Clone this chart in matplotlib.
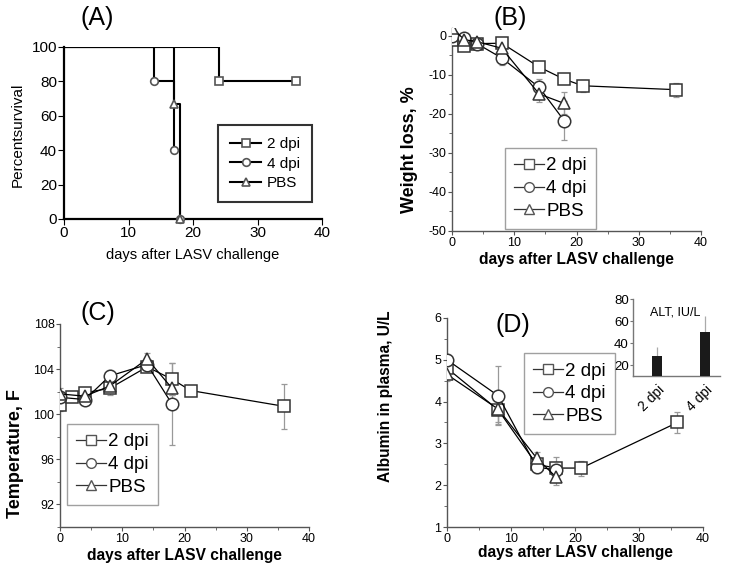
import numpy as np
import matplotlib
matplotlib.use("Agg")
import matplotlib.pyplot as plt
from matplotlib.ticker import MultipleLocator

plt.rcParams['font.family'] = ['Liberation Sans', 'DejaVu Sans']
plt.rcParams['axes.unicode_minus'] = False

groups = ['2 dpi', '4 dpi', 'PBS']
markers = ['s', 'o', '^']

# (A) survival
surv_t = {'2 dpi': [0, 24, 36], '4 dpi': [0, 14, 17, 18], 'PBS': [0, 17, 18]}
surv_p = {'2 dpi': [100, 80, 80], '4 dpi': [100, 80, 40, 0], 'PBS': [100, 66.7, 0]}

# (B) weight loss
wt_days = {'2 dpi': [0, 2, 4, 8, 14, 18, 21, 36], '4 dpi': [0, 2, 4, 8, 14, 18], 'PBS': [0, 2, 4, 8, 14, 18]}
wt_val = {'2 dpi': [-1.0, -2.6, -2.0, -1.9, -8.0, -11.1, -12.8, -13.8],
          '4 dpi': [0.0, -0.5, -2.0, -5.7, -13.2, -21.7],
          'PBS': [2.0, -1.0, -1.5, -3.2, -14.9, -17.3]}
wt_err = {'2 dpi': [0.5, 0.8, 0.6, 0.8, 0.8, 0.8, 1.5, 1.8],
          '4 dpi': [0.5, 0.8, 0.8, 1.8, 2.1, 5.0],
          'PBS': [0.5, 0.8, 0.8, 1.5, 2.0, 2.8]}

# (C) temperature
tmp_days = {'2 dpi': [0, 2, 4, 8, 14, 18, 21, 36], '4 dpi': [0, 4, 8, 14, 18], 'PBS': [0, 4, 8, 14, 18]}
tmp_val = {'2 dpi': [100.8, 101.5, 101.9, 102.3, 104.2, 103.1, 102.1, 100.7],
           '4 dpi': [101.5, 101.3, 103.4, 104.4, 100.9],
           'PBS': [101.8, 101.6, 102.5, 104.9, 102.3]}
tmp_err = {'2 dpi': [0.5, 0.4, 0.4, 0.4, 0.4, 1.4, 0.4, 2.0],
           '4 dpi': [0.5, 0.5, 0.5, 0.5, 3.6],
           'PBS': [0.5, 0.4, 0.8, 0.5, 0.6]}

# (D) albumin
alb_days = {'2 dpi': [0, 8, 14, 17, 21, 36], '4 dpi': [0, 8, 14, 17], 'PBS': [0, 8, 14, 17]}
alb_val = {'2 dpi': [4.8, 3.8, 2.5, 2.41, 2.41, 3.5],
           '4 dpi': [5.0, 4.14, 2.43, 2.37],
           'PBS': [4.65, 3.82, 2.65, 2.2]}
alb_err = {'2 dpi': [0.2, 0.3, 0.15, 0.15, 0.18, 0.25],
           '4 dpi': [0.15, 0.7, 0.15, 0.3],
           'PBS': [0.15, 0.35, 0.15, 0.2]}

# inset ALT
alt_names = ['2 dpi', '4 dpi']
alt_val = [28, 50]
alt_err = [8, 15]

W, H = 729, 573
fig = plt.figure(figsize=(W / 100, H / 100), dpi=100)


def box(l, r, t, b):
    return [l / W, 1 - b / H, (r - l) / W, (b - t) / H]


def style_axes(ax, lw=1.0, col='#555555', size=9):
    for s in ['top', 'right']:
        ax.spines[s].set_visible(False)
    for s in ['left', 'bottom']:
        ax.spines[s].set_color(col)
        ax.spines[s].set_linewidth(lw)
    ax.tick_params(which='major', direction='out', length=3, color=col, labelsize=size, pad=1)
    ax.tick_params(which='minor', direction='out', length=2, color=col)


# ---------------- (A)
axA = fig.add_axes(box(64, 322, 47, 219))
for g, m in zip(groups, markers):
    axA.step(surv_t[g], surv_p[g], where='post', color='k', lw=1.5, zorder=2)
    axA.plot(surv_t[g][1:], surv_p[g][1:], ls='none', marker=m, ms=5.5,
             mfc='white', mec='#555555', mew=1.2, zorder=3, clip_on=False)
axA.set_xlim(0, 40)
axA.set_ylim(0, 100)
axA.xaxis.set_major_locator(MultipleLocator(10))
axA.yaxis.set_major_locator(MultipleLocator(20))
style_axes(axA, lw=1.6, col='k', size=11)
axA.tick_params(length=4)
axA.set_xlabel('days after LASV challenge', fontsize=10.5)
axA.set_ylabel('Percentsurvival', fontsize=11)
axA.xaxis.set_label_coords(0.5, -0.169)
axA.yaxis.set_label_coords(-0.151, 0.49)
hA = [plt.Line2D([], [], color='k', lw=1.5, marker=m, ms=5.5, mfc='white', mec='#555555', mew=1.2)
      for m in markers]
legA = axA.legend(hA, groups, loc='upper left', bbox_to_anchor=(218 / W, 1 - 125 / H),
                  bbox_transform=fig.transFigure, fontsize=11, frameon=True, fancybox=False,
                  handlelength=2.0, borderpad=0.8, labelspacing=0.35, handletextpad=0.4,
                  borderaxespad=0)
legA.get_frame().set_edgecolor('k')
legA.get_frame().set_linewidth(1.5)
fig.text(97 / W, 1 - 18 / H, '(A)', fontsize=18, ha='center', va='center')


def series_panel(ax, days, vals, errs):
    for g, m in zip(groups, markers):
        ax.errorbar(days[g], vals[g], yerr=errs[g], fmt='none', ecolor='#999999',
                    elinewidth=0.9, capsize=2.5, capthick=0.9, zorder=2)
        ax.plot(days[g], vals[g], color='k', lw=0.9, marker=m, ms=9,
                mfc='white', mec='#333333', mew=1.1, zorder=3)
    ax.set_xlim(0, 40)
    ax.xaxis.set_major_locator(MultipleLocator(10))
    ax.xaxis.set_minor_locator(MultipleLocator(5))
    style_axes(ax)
    ax.set_xlabel('days after LASV challenge', fontsize=11.2, fontweight='bold')


def big_legend(ax, x, y):
    h = [plt.Line2D([], [], color='#333333', lw=0.9, marker=m, ms=7, mfc='white',
                    mec='#555555', mew=1.0) for m in markers]
    leg = ax.legend(h, groups, loc='upper left', bbox_to_anchor=(x / W, 1 - y / H),
                    bbox_transform=fig.transFigure, fontsize=13.5, frameon=True, fancybox=False,
                    handlelength=1.6, borderpad=0.5, labelspacing=0.3, handletextpad=0.1,
                    borderaxespad=0)
    leg.get_frame().set_edgecolor('#888888')
    leg.get_frame().set_linewidth(1.0)
    return leg


# ---------------- (B)
axB = fig.add_axes(box(452, 701, 28, 231))
series_panel(axB, wt_days, wt_val, wt_err)
axB.set_ylim(-50, 2)
axB.set_yticks([0, -10, -20, -30, -40, -50])
axB.yaxis.set_minor_locator(MultipleLocator(5))
axB.set_ylabel('Weight loss, %', fontsize=13, fontweight='bold')
axB.xaxis.set_label_coords(0.5, -0.103)
axB.yaxis.set_label_coords(-0.137, 0.40)
big_legend(axB, 505, 148)
fig.text(510 / W, 1 - 18 / H, '(B)', fontsize=18, ha='center', va='center')

# ---------------- (C)
axC = fig.add_axes(box(60, 309, 324, 527))
series_panel(axC, tmp_days, tmp_val, tmp_err)
axC.set_ylim(90, 108)
axC.set_yticks([92, 96, 100, 104, 108])
axC.yaxis.set_minor_locator(MultipleLocator(2))
axC.set_ylabel('Temperature, F', fontsize=13, fontweight='bold')
axC.xaxis.set_label_coords(0.5, -0.103)
axC.yaxis.set_label_coords(-0.145, 0.36)
big_legend(axC, 67, 424)
fig.text(98 / W, 1 - 313 / H, '(C)', fontsize=18, ha='center', va='center')

# ---------------- (D)
axD = fig.add_axes(box(447, 703, 318, 527))
series_panel(axD, alb_days, alb_val, alb_err)
axD.set_ylim(1, 6)
axD.yaxis.set_major_locator(MultipleLocator(1))
axD.yaxis.set_minor_locator(MultipleLocator(0.5))
axD.set_ylabel('Albumin in plasma, U/L', fontsize=11.2, fontweight='bold')
axD.xaxis.set_label_coords(0.5, -0.086)
axD.yaxis.set_label_coords(-0.211, 0.627)
big_legend(axD, 524, 353)
fig.text(513 / W, 1 - 325 / H, '(D)', fontsize=18, ha='center', va='center')

# inset
axI = fig.add_axes(box(633, 720, 299, 376))
xi = np.arange(len(alt_names))
axI.bar(xi, alt_val, width=0.2, color='#1a1a1a', zorder=3)
axI.errorbar(xi, alt_val, yerr=[[0, 0], alt_err], fmt='none', ecolor='#aaaaaa',
             elinewidth=0.9, capsize=0, zorder=2)
axI.set_xlim(-0.5, 1.31)
axI.set_ylim(10, 80)
axI.set_yticks([20, 40, 60, 80])
axI.set_xticks(xi)
axI.set_xticklabels(alt_names, rotation=45, ha='right', rotation_mode='anchor')
style_axes(axI, col='#777777', size=9.5)
axI.tick_params(axis='x', length=0, labelsize=10, pad=5)
axI.tick_params(axis='y', length=2, pad=1)
axI.text(0.2, 0.9, 'ALT, IU/L', transform=axI.transAxes, fontsize=9, va='top')

fig.savefig('out.png', dpi=100)
